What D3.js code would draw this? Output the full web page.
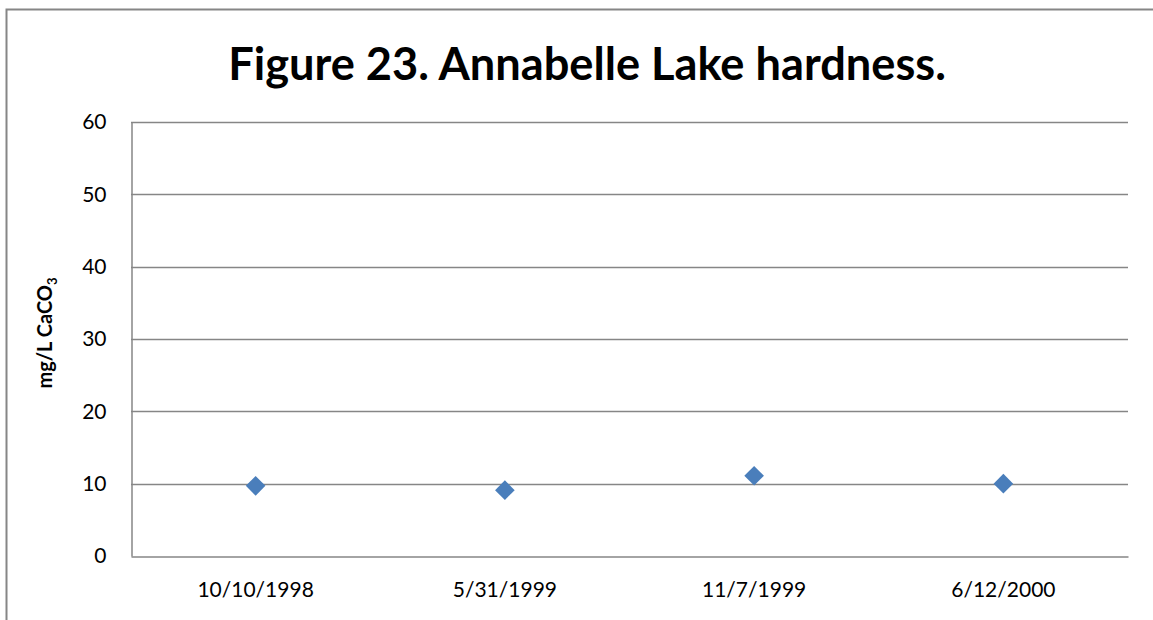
<!DOCTYPE html>
<html>
<head>
<meta charset="utf-8">
<script src="https://cdn.jsdelivr.net/npm/d3@7"></script>
<style>
  html, body { margin: 0; padding: 0; background: #fff; }
  svg { display: block; }
  text { font-family: Lato, "Open Sans", "Liberation Sans", sans-serif; fill: #000; }
</style>
</head>
<body>
<svg id="chart" width="1153" height="620"></svg>
<script>
// Sampling dates and measured hardness (mg/L as CaCO3)
const dates = ["10/10/1998", "5/31/1999", "11/7/1999", "6/12/2000"];
const hardness = [9.7, 9.1, 11.1, 10.0];
const yTicks = [0, 10, 20, 30, 40, 50, 60];
const titleText = "Figure 23. Annabelle Lake hardness.";

const svg = d3.select("#chart");
const W = 1153, H = 620;
const plot = { left: 131, right: 1128, top: 122, bottom: 556 };
const gridColor = "#868686";
const fontStack = "Lato, 'Open Sans', sans-serif";

// Outer chart frame (runs off the right and bottom of the view)
svg.append("path")
  .attr("d", `M6.5,${H + 5} V9.5 H${W + 5}`)
  .attr("fill", "none")
  .attr("stroke", gridColor)
  .attr("stroke-width", 2);

const x = d3.scaleBand().domain(dates).range([plot.left, plot.right]);
const y = d3.scaleLinear().domain([0, 60]).range([plot.bottom, plot.top]);

// Horizontal gridlines
svg.append("g")
  .selectAll("line")
  .data(yTicks.filter(t => t > 0))
  .join("line")
  .attr("x1", plot.left).attr("x2", plot.right)
  .attr("y1", d => Math.round(y(d)) + 0.5).attr("y2", d => Math.round(y(d)) + 0.5)
  .attr("stroke", gridColor).attr("stroke-width", 1.5);

// Y axis
const yAxis = svg.append("g")
  .attr("transform", `translate(${plot.left + 0.5},0)`)
  .call(d3.axisLeft(y).tickValues(yTicks).tickSize(0).tickPadding(25));
yAxis.select(".domain").attr("stroke", gridColor).attr("stroke-width", 1.5);
yAxis.selectAll("text")
  .style("font-size", "21px")
  .style("font-family", fontStack);

// X axis
const xAxis = svg.append("g")
  .attr("transform", `translate(0,${Math.round(plot.bottom) + 0.5})`)
  .call(d3.axisBottom(x).tickSize(0).tickPadding(26));
xAxis.select(".domain").attr("stroke", gridColor).attr("stroke-width", 1.5);
xAxis.selectAll("text")
  .style("font-size", "21px")
  .style("font-family", fontStack);

// Data markers (diamonds)
const diamond = d3.symbol().type(d3.symbolDiamond2).size(245);
svg.append("g")
  .selectAll("path")
  .data(dates.map((d, i) => ({ date: d, value: hardness[i] })))
  .join("path")
  .attr("d", diamond)
  .attr("transform", d => `translate(${x(d.date) + x.bandwidth() / 2},${y(d.value)})`)
  .attr("fill", "#4a7ebb");

// Title, sized to span its measured width
const title = svg.append("text")
  .attr("x", 587).attr("y", 80)
  .attr("text-anchor", "middle")
  .attr("font-weight", "bold")
  .attr("font-size", 40)
  .text(titleText);
const tw = title.node().getComputedTextLength();
title.attr("font-size", 40 * 718 / tw);

// Y axis title with subscript
const yTitle = svg.append("text")
  .attr("transform", `translate(52,${(plot.top + plot.bottom) / 2 - 6}) rotate(-90)`)
  .attr("text-anchor", "middle")
  .attr("font-weight", "bold")
  .style("font-size", "20px");
yTitle.append("tspan").text("mg/L CaCO");
yTitle.append("tspan").style("font-size", "13px").attr("dy", 5).text("3");
</script>
</body>
</html>
